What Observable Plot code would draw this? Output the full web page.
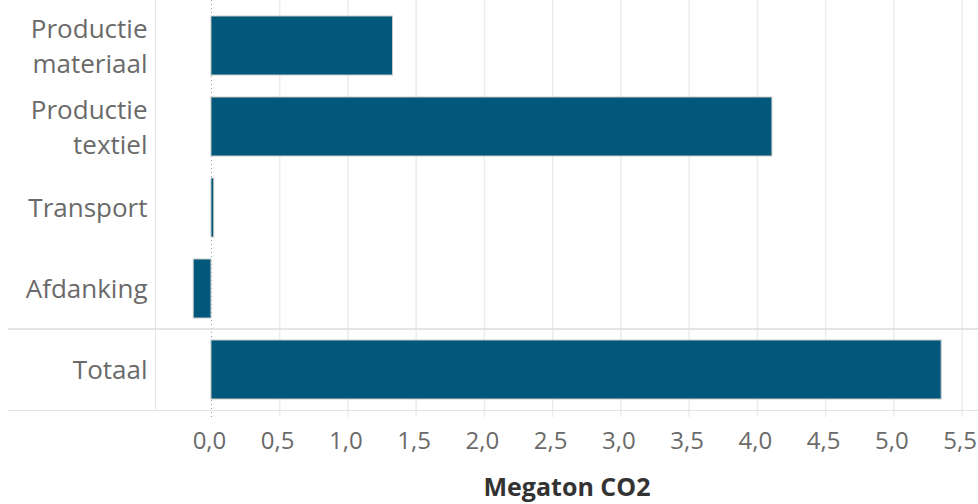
<!DOCTYPE html>
<html><head><meta charset="utf-8">
<script src="https://cdn.jsdelivr.net/npm/d3@7"></script>
<script src="https://cdn.jsdelivr.net/npm/@observablehq/plot@0.6"></script>
<style>body{margin:0;background:#fff}</style>
</head><body><div id="chart"></div>
<script>
const categories = ["Productie\nmateriaal", "Productie\ntextiel", "Transport", "Afdanking", "Totaal"];
const values = [1.33, 4.11, 0.02, -0.13, 5.35];
const xTicks = [0, 0.5, 1, 1.5, 2, 2.5, 3, 3.5, 4, 4.5, 5, 5.5];
const xDomain = [-0.41, 5.62];
const axisTitle = "Megaton CO2";
const totalCategory = "Totaal";

const data = categories.map((c, i) => ({category: c, value: values[i]}));
const fmt = d3.formatLocale({decimal: ",", thousands: ".", grouping: [3], currency: ["€", ""]}).format(".1f");

const chart = Plot.plot({
  width: 978, height: 504,
  marginLeft: 155, marginRight: 0, marginTop: 5, marginBottom: 94,
  style: {fontFamily: "'Open Sans', sans-serif", fontSize: "26px", color: "#6a6a6a", background: "#fff"},
  x: {domain: xDomain},
  y: {domain: categories, padding: 0},
  marks: [
    Plot.ruleX(xTicks.filter(t => t !== 0), {stroke: "#ececec", strokeWidth: 1.5, insetTop: -5, insetBottom: -7}),
    Plot.frame({anchor: "left", stroke: "#e6e6e6", insetTop: -5}),
    Plot.frame({anchor: "bottom", stroke: "#e3e3e3", insetLeft: -147}),
    Plot.ruleX([0], {stroke: "#9a9a9a", strokeDasharray: "1,3", insetTop: -5, insetBottom: -7}),
    Plot.barX(data, {y: "category", x: "value", fill: "#02587b", stroke: "#c9c9c9", strokeWidth: 1, insetTop: 11, insetBottom: 11}),
    Plot.axisY({tickSize: 0, tickPadding: 8, lineHeight: 1.38, label: null, dy: -2}),
    Plot.axisX({ticks: xTicks, tickFormat: fmt, tickSize: 0, tickPadding: 21, fontSize: 24, dx: -2, label: null}),
    Plot.text([axisTitle], {frameAnchor: "bottom", dy: 85, fontSize: 25, fontWeight: "bold", fill: "#333"})
  ]
});

const ys = chart.scale("y");
const yTop = ys.apply(totalCategory);
d3.select(chart).append("line")
  .attr("x1", 8).attr("x2", 978)
  .attr("y1", yTop).attr("y2", yTop)
  .attr("stroke", "#dcdcdc").attr("stroke-width", 1.5);

document.getElementById("chart").appendChild(chart);
</script>
</body></html>
